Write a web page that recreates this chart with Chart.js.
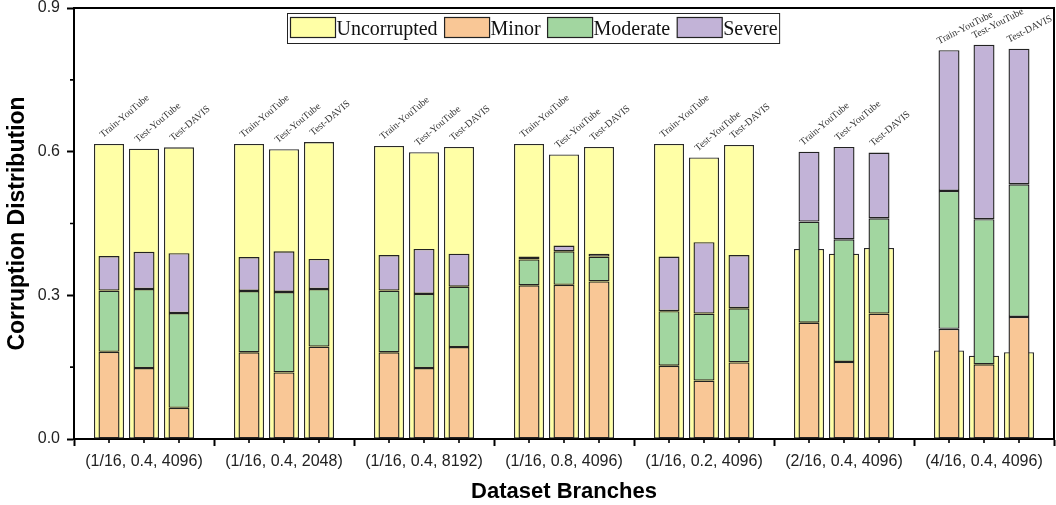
<!DOCTYPE html>
<html>
<head>
<meta charset="utf-8">
<script src="https://cdn.jsdelivr.net/npm/chart.js@4.4.1/dist/chart.umd.min.js"></script>
<style>
  html, body { margin: 0; padding: 0; background: #fff; }
  #wrap { width: 1056px; height: 505px; }
</style>
</head>
<body>
<div id="wrap"><canvas id="mychart"></canvas></div>
<script>
const branches = ['(1/16, 0.4, 4096)', '(1/16, 0.4, 2048)', '(1/16, 0.4, 8192)', '(1/16, 0.8, 4096)',
                  '(1/16, 0.2, 4096)', '(2/16, 0.4, 4096)', '(4/16, 0.4, 4096)'];
const splits = ['Train-YouTube', 'Test-YouTube', 'Test-DAVIS'];
const levels = ['Uncorrupted', 'Minor', 'Moderate', 'Severe'];

// one row per split: Train-YouTube, Test-YouTube, Test-DAVIS
const uncorrupted = [
    [0.616, 0.616, 0.612, 0.616, 0.616, 0.397, 0.185],
    [0.606, 0.605, 0.599, 0.594, 0.588, 0.387, 0.174],
    [0.609, 0.620, 0.610, 0.610, 0.614, 0.399, 0.181]
];
const minor = [
    [0.182, 0.181, 0.181, 0.321, 0.153, 0.243, 0.230],
    [0.148, 0.139, 0.148, 0.322, 0.122, 0.161, 0.156],
    [0.065, 0.193, 0.192, 0.329, 0.160, 0.262, 0.255]
];
const moderate = [
    [0.128, 0.128, 0.129, 0.054, 0.114, 0.211, 0.288],
    [0.165, 0.168, 0.155, 0.070, 0.140, 0.256, 0.303],
    [0.198, 0.120, 0.126, 0.052, 0.113, 0.199, 0.277]
];
const severe = [
    [0.072, 0.071, 0.074, 0.006, 0.114, 0.146, 0.294],
    [0.078, 0.085, 0.094, 0.012, 0.149, 0.193, 0.364],
    [0.125, 0.063, 0.069, 0.006, 0.111, 0.137, 0.283]
];

const colors = {
    Uncorrupted: '#FFFFA6',
    Minor: '#F9C796',
    Moderate: '#A2D6A0',
    Severe: '#C2B3D7'
};

const sansFont = '"Liberation Sans", Arial, sans-serif';
const serifFont = '"Liberation Serif", "Times New Roman", serif';

// each group of the x axis spans one unit, the three splits sit at 1/4, 2/4, 3/4
const toPoints = (values, s) => values.map((v, j) => ({ x: j + (s + 1) / 4, y: v }));

// narrow stacked bars first so they are painted over the wide yellow ones
const datasets = [];
splits.forEach((split, s) => {
    [[minor, 'Minor'], [moderate, 'Moderate'], [severe, 'Severe']].forEach(([arr, name]) => {
        datasets.push({
            label: name,
            split: s,
            data: toPoints(arr[s], s),
            stack: 'c' + s,
            grouped: false,
            backgroundColor: colors[name],
            borderColor: '#222',
            borderWidth: 1.4,
            borderSkipped: false,
            barPercentage: 0.6,
            categoryPercentage: 1
        });
    });
});
splits.forEach((split, s) => {
    datasets.push({
        label: 'Uncorrupted',
        split: s,
        data: toPoints(uncorrupted[s], s),
        stack: 'u' + s,
        grouped: false,
        backgroundColor: colors.Uncorrupted,
        borderColor: '#2a2a2a',
        borderWidth: 1.3,
        borderSkipped: false,
        barPercentage: 0.857,
        categoryPercentage: 1
    });
});

const decorations = {
    id: 'decorations',
    afterDatasetsDraw(chart) {
        const {ctx, chartArea: area} = chart;
        const ys = chart.scales.y;
        ctx.save();

        // frame on top and right
        ctx.strokeStyle = '#000';
        ctx.lineWidth = 2;
        ctx.beginPath();
        ctx.moveTo(area.left, area.top);
        ctx.lineTo(area.right, area.top);
        ctx.lineTo(area.right, area.bottom);
        ctx.stroke();

        // minor ticks
        ctx.lineWidth = 1.6;
        ctx.beginPath();
        [0.15, 0.45, 0.75].forEach(v => {
            const y = ys.getPixelForValue(v);
            ctx.moveTo(area.left, y);
            ctx.lineTo(area.left - 4, y);
        });
        chart.data.datasets.forEach((ds, i) => {
            if (ds.label !== 'Minor') return;
            chart.getDatasetMeta(i).data.forEach(el => {
                ctx.moveTo(el.x, area.bottom);
                ctx.lineTo(el.x, area.bottom + 4);
            });
        });
        ctx.stroke();

        // split names above each bar
        ctx.font = '10px ' + serifFont;
        ctx.fillStyle = '#333';
        ctx.textAlign = 'left';
        ctx.textBaseline = 'alphabetic';
        splits.forEach((split, s) => {
            const sevIdx = chart.data.datasets.findIndex(d => d.label === 'Severe' && d.split === s);
            const uncIdx = chart.data.datasets.findIndex(d => d.label === 'Uncorrupted' && d.split === s);
            const sevEls = chart.getDatasetMeta(sevIdx).data;
            const uncEls = chart.getDatasetMeta(uncIdx).data;
            sevEls.forEach((el, j) => {
                const top = Math.min(el.y, uncEls[j].y);
                const flat = top - area.top < 60;
                ctx.save();
                ctx.translate(el.x - (flat ? 10 : 6), top - 6);
                ctx.rotate((flat ? -27 : -40) * Math.PI / 180);
                ctx.fillText(split, 0, 0);
                ctx.restore();
            });
        });

        // legend box
        const items = levels.map(name => {
            const ds = chart.data.datasets.find(d => d.label === name);
            return {text: ds.label, color: ds.backgroundColor};
        });
        ctx.font = '20px ' + serifFont;
        const swW = 45, swH = 20, boxH = 30;
        let boxW = 4;
        items.forEach((it, k) => {
            boxW += swW + 1 + ctx.measureText(it.text).width + (k < items.length - 1 ? 7 : 1);
        });
        const bx = area.left + 213.5, by = area.top + 5.5;
        ctx.fillStyle = '#fff';
        ctx.fillRect(bx, by, boxW, boxH);
        ctx.strokeStyle = '#222';
        ctx.lineWidth = 1;
        ctx.strokeRect(bx, by, boxW, boxH);
        let cx = bx + 3;
        items.forEach(it => {
            ctx.fillStyle = it.color;
            ctx.fillRect(cx, by + 4, swW, swH);
            ctx.strokeStyle = '#222';
            ctx.lineWidth = 1.2;
            ctx.strokeRect(cx, by + 4, swW, swH);
            ctx.fillStyle = '#111';
            ctx.textBaseline = 'middle';
            ctx.fillText(it.text, cx + swW + 1, by + boxH / 2 + 1);
            cx += swW + 1 + ctx.measureText(it.text).width + 7;
        });

        ctx.restore();
    }
};

const ctx = document.getElementById('mychart');
var chart = new Chart(ctx, {
    type: 'bar',
    data: {
        datasets: datasets
    },
    options: {
        responsive: true,
        maintainAspectRatio: false,
        animation: false,
        layout: {
            padding: { top: 8, right: 2, left: 0, bottom: 0 }
        },
        plugins: {
            legend: { display: false },
            tooltip: { enabled: false }
        },
        scales: {
            x: {
                type: 'linear',
                min: 0,
                max: branches.length,
                offset: false,
                afterFit(scale) {
                    scale.height = 66;
                    scale.paddingLeft = 0;
                    scale.paddingRight = 0;
                },
                grid: {
                    offset: false,
                    drawOnChartArea: false,
                    tickLength: 7,
                    tickWidth: 2,
                    tickColor: c => Number.isInteger(c.tick.value) ? '#000' : 'rgba(0,0,0,0)',
                    color: '#000'
                },
                border: { color: '#000', width: 2 },
                ticks: {
                    stepSize: 0.25,
                    autoSkip: false,
                    padding: 6,
                    color: '#222',
                    maxRotation: 0,
                    font: { size: 16, family: sansFont },
                    callback: v => Number.isInteger(v - 0.5) ? branches[v - 0.5] : ''
                },
                title: {
                    display: true,
                    text: 'Dataset Branches',
                    color: '#000',
                    padding: { top: 0, bottom: 0 },
                    font: { size: 22, weight: 'bold', family: sansFont }
                }
            },
            y: {
                stacked: true,
                min: 0,
                max: 0.9,
                afterFit(scale) {
                    scale.width = 74;
                    scale.paddingTop = 0;
                    scale.paddingBottom = 0;
                },
                grid: {
                    drawOnChartArea: false,
                    tickLength: 7,
                    tickWidth: 2,
                    color: '#000'
                },
                border: { color: '#000', width: 2 },
                ticks: {
                    stepSize: 0.3,
                    padding: 7,
                    color: '#222',
                    font: { size: 16, family: sansFont },
                    callback: v => v.toFixed(1)
                },
                title: {
                    display: true,
                    text: 'Corruption Distribution',
                    color: '#000',
                    padding: { top: 4, bottom: 0 },
                    font: { size: 23, weight: 'bold', family: sansFont }
                }
            }
        }
    },
    plugins: [decorations]
});
</script>
</body>
</html>
